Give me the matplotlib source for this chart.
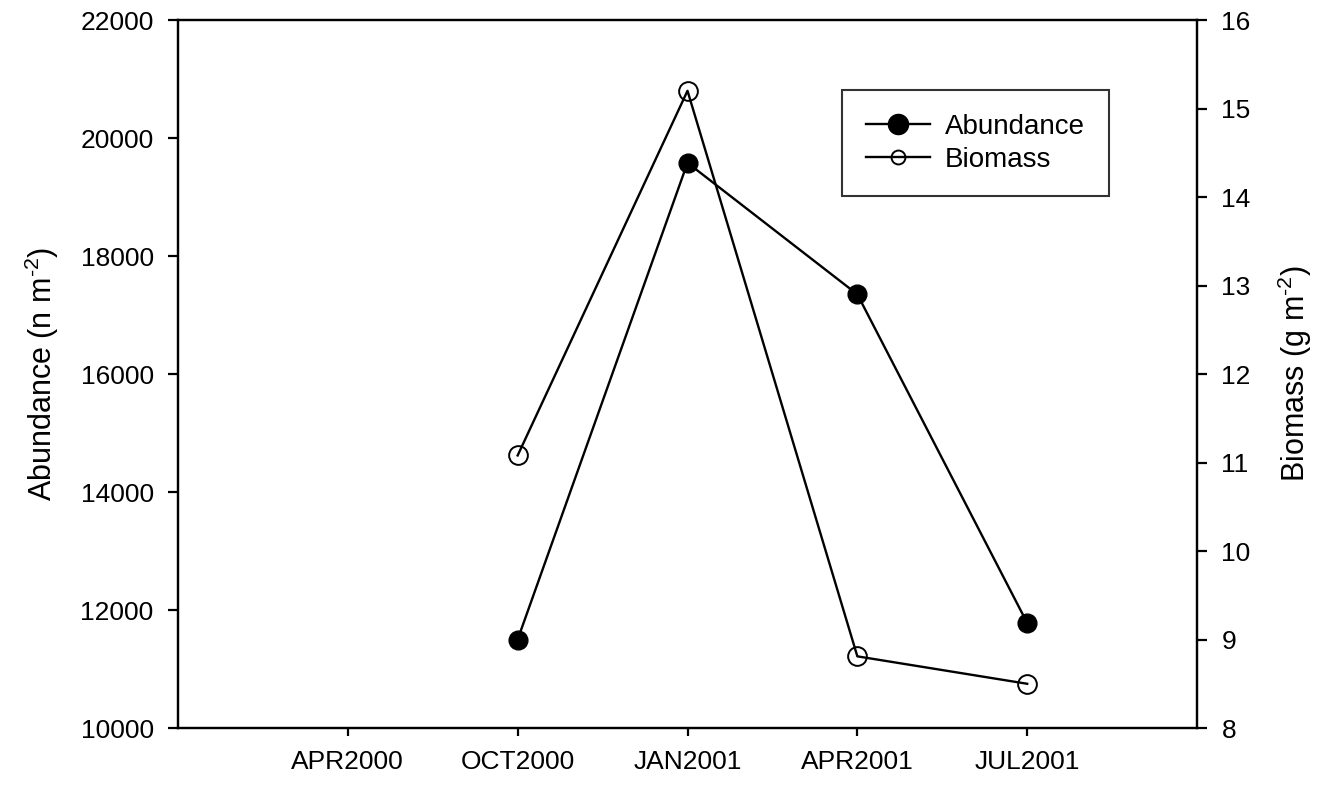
import matplotlib
matplotlib.use("Agg")
import matplotlib.pyplot as plt
from matplotlib.lines import Line2D

plt.rcParams['font.family'] = ['Liberation Sans', 'DejaVu Sans']
plt.rcParams['mathtext.fontset'] = 'custom'
plt.rcParams['mathtext.rm'] = 'Liberation Sans'

# sampling dates on the x axis (categorical)
categories = ["APR2000", "OCT2000", "JAN2001", "APR2001", "JUL2001"]
sampled = ["OCT2000", "JAN2001", "APR2001", "JUL2001"]

abundance = [11500, 19580, 17350, 11780]   # n m-2
biomass = [11.08, 15.20, 8.81, 8.50]       # g m-2

x_cat = list(range(1, len(categories) + 1))
x_smp = [categories.index(d) + 1 for d in sampled]

fig = plt.figure(figsize=(13.22, 7.88), dpi=100)
ax = fig.add_axes([0.1346, 0.0761, 0.7709, 0.8985])
ax2 = ax.twinx()

ax.plot(x_smp, abundance, color="black", lw=1.7, marker="o", ms=13.5,
        mfc="black", mec="black", zorder=3)
ax2.plot(x_smp, biomass, color="black", lw=1.7, marker="o", ms=13.5,
         mfc="none", mec="black", mew=1.4, zorder=3)

ax.set_xlim(0, 6)
ax.set_xticks(x_cat)
ax.set_xticklabels(categories)
ax.set_ylim(10000, 22000)
ax.set_yticks(range(10000, 22001, 2000))
ax2.set_ylim(8, 16)
ax2.set_yticks(range(8, 17))

ax.set_ylabel(r"Abundance (n m$^{\text{-2}}$)", fontsize=22, labelpad=14)
ax2.set_ylabel(r"Biomass (g m$^{\text{-2}}$)", fontsize=22, labelpad=18)

for a in (ax, ax2):
    for s in a.spines.values():
        s.set_linewidth(1.6)
    a.tick_params(direction="out", length=7.5, width=1.6, labelsize=19, pad=10)
ax.tick_params(axis="x", length=6, pad=10)

handles = [
    Line2D([], [], color="black", lw=1.7, marker="o", ms=14.5, mfc="black", mec="black"),
    Line2D([], [], color="black", lw=1.7, marker="o", ms=10, mfc="none", mec="black", mew=1.4),
]
leg = ax.legend(handles, ["Abundance", "Biomass"], loc="upper left",
                bbox_to_anchor=(0.652, 0.901), borderaxespad=0, fontsize=20,
                frameon=True, fancybox=False, edgecolor="black",
                handlelength=2.3, handletextpad=0.55, borderpad=0.85,
                labelspacing=0.25)
leg.get_frame().set_linewidth(1.5)
leg.set_zorder(10)

fig.savefig("out.png", dpi=100)
